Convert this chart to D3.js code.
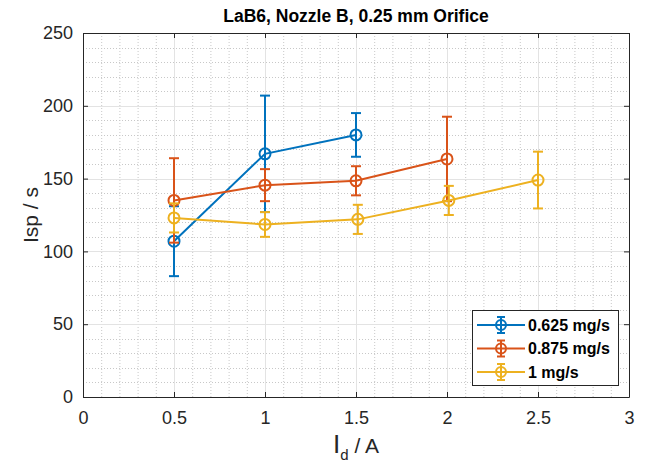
<!DOCTYPE html>
<html>
<head>
<meta charset="utf-8">
<script src="https://cdn.jsdelivr.net/npm/d3@7"></script>
<style>
  body { margin: 0; background: #fff; }
  svg { display: block; font-family: "Liberation Sans", Arial, sans-serif; }
</style>
</head>
<body>
<svg id="chart" width="646" height="465"></svg>
<script>
// Discharge current (A) for each flow rate
const current0625 = [0.5, 1.0, 1.5];
const current0875 = [0.5, 1.0, 1.5, 2.0];
const current1000 = [0.5, 1.0, 1.51, 2.01, 2.5];

// Specific impulse (s) and symmetric error (s)
const isp0625 = [107, 167, 180];
const err0625 = [24, 40, 15];
const isp0875 = [135, 145.5, 148.5, 163.5];
const err0875 = [29, 11, 10, 29];
const isp1000 = [123, 118.5, 122, 135, 149];
const err1000 = [10, 8.5, 10, 10, 19.5];

const seriesNames = ["0.625 mg/s", "0.875 mg/s", "1 mg/s"];
const seriesColors = ["#0072BD", "#D95319", "#EDB120"];

const xTicks = [0, 0.5, 1, 1.5, 2, 2.5, 3];
const yTicks = [0, 50, 100, 150, 200, 250];

const series = [
  { name: seriesNames[0], color: seriesColors[0], x: current0625, y: isp0625, e: err0625 },
  { name: seriesNames[1], color: seriesColors[1], x: current0875, y: isp0875, e: err0875 },
  { name: seriesNames[2], color: seriesColors[2], x: current1000, y: isp1000, e: err1000 }
];

const svg = d3.select("#chart");
const L = 83, R = 629, T = 33, B = 397;

const x = d3.scaleLinear().domain([0, 3]).range([L, R]);
const y = d3.scaleLinear().domain([0, 250]).range([B, T]);

// Minor grid (dotted)
const xMinor = d3.range(0, 3.0001, 0.1).filter(v => Math.abs(v * 2 - Math.round(v * 2)) > 1e-6);
const yMinor = d3.range(0, 250.001, 10).filter(v => v % 50 !== 0);
const grid = svg.append("g");
grid.selectAll(".xm").data(xMinor).join("line")
  .attr("x1", d => x(d) + 0.5).attr("x2", d => x(d) + 0.5)
  .attr("y1", T).attr("y2", B)
  .attr("stroke", "#c8c8c8").attr("stroke-width", 1).attr("stroke-dasharray", "1,2");
grid.selectAll(".ym").data(yMinor).join("line")
  .attr("y1", d => Math.round(y(d)) + 0.5).attr("y2", d => Math.round(y(d)) + 0.5)
  .attr("x1", L).attr("x2", R)
  .attr("stroke", "#c8c8c8").attr("stroke-width", 1).attr("stroke-dasharray", "1,2");
// Major grid (solid)
grid.selectAll(".xM").data(xTicks).join("line")
  .attr("x1", d => Math.round(x(d)) + 0.5).attr("x2", d => Math.round(x(d)) + 0.5)
  .attr("y1", T).attr("y2", B)
  .attr("stroke", "#e3e3e3").attr("stroke-width", 1);
grid.selectAll(".yM").data(yTicks).join("line")
  .attr("y1", d => Math.round(y(d)) + 0.5).attr("y2", d => Math.round(y(d)) + 0.5)
  .attr("x1", L).attr("x2", R)
  .attr("stroke", "#e3e3e3").attr("stroke-width", 1);

// Axes with inward ticks
const axisColor = "#262626";
const fmt = d => d3.format("")(d);
const xAxis = svg.append("g").attr("transform", `translate(0,${B})`)
  .call(d3.axisBottom(x).tickValues(xTicks).tickFormat(fmt).tickSizeInner(-5).tickSizeOuter(0).tickPadding(14));
const xAxisTop = svg.append("g").attr("transform", `translate(0,${T})`)
  .call(d3.axisTop(x).tickValues(xTicks).tickFormat("").tickSizeInner(-5).tickSizeOuter(0));
const yAxis = svg.append("g").attr("transform", `translate(${L},0)`)
  .call(d3.axisLeft(y).tickValues(yTicks).tickFormat(fmt).tickSizeInner(-5).tickSizeOuter(0).tickPadding(10));
const yAxisRight = svg.append("g").attr("transform", `translate(${R},0)`)
  .call(d3.axisRight(y).tickValues(yTicks).tickFormat("").tickSizeInner(-5).tickSizeOuter(0));
[xAxis, xAxisTop, yAxis, yAxisRight].forEach(g => {
  g.select(".domain").attr("stroke", axisColor);
  g.selectAll(".tick line").attr("stroke", axisColor);
  g.selectAll(".tick text").attr("fill", axisColor).attr("font-size", 18)
    .attr("font-family", "Liberation Sans, Arial, sans-serif");
});

// Data: lines, error bars, markers
const line = d3.line().x(d => x(d[0])).y(d => y(d[1]));
const capHalf = 5;
series.forEach(s => {
  const pts = s.x.map((v, i) => [v, s.y[i], s.e[i]]);
  const g = svg.append("g");
  g.append("path").datum(pts).attr("d", line)
    .attr("fill", "none").attr("stroke", s.color).attr("stroke-width", 2);
  pts.forEach(p => {
    const cx = x(p[0]);
    const lo = y(p[1] - p[2]), hi = y(p[1] + p[2]);
    g.append("line").attr("x1", cx).attr("x2", cx).attr("y1", lo).attr("y2", hi)
      .attr("stroke", s.color).attr("stroke-width", 2);
    g.append("line").attr("x1", cx - capHalf).attr("x2", cx + capHalf).attr("y1", lo).attr("y2", lo)
      .attr("stroke", s.color).attr("stroke-width", 2);
    g.append("line").attr("x1", cx - capHalf).attr("x2", cx + capHalf).attr("y1", hi).attr("y2", hi)
      .attr("stroke", s.color).attr("stroke-width", 2);
  });
  g.selectAll("circle").data(pts).join("circle")
    .attr("cx", d => x(d[0])).attr("cy", d => y(d[1])).attr("r", 5.5)
    .attr("fill", "none").attr("stroke", s.color).attr("stroke-width", 2);
});

// Title
svg.append("text").attr("x", (L + R) / 2).attr("y", 22).attr("text-anchor", "middle")
  .attr("font-size", 17.5).attr("font-weight", "bold").attr("fill", "#000")
  .text("LaB6, Nozzle B, 0.25 mm Orifice");

// Axis labels
const xl = svg.append("text").attr("x", (L + R) / 2).attr("y", 453).attr("text-anchor", "middle")
  .attr("font-size", 21).attr("fill", axisColor);
xl.append("tspan").attr("font-size", 26).text("I");
xl.append("tspan").attr("font-size", 15).attr("dy", 7).text("d");
xl.append("tspan").attr("dy", -7).text(" / A");

svg.append("text").attr("transform", `translate(38,${(T + B) / 2}) rotate(-90)`)
  .attr("text-anchor", "middle").attr("font-size", 21).attr("fill", axisColor)
  .text("Isp / s");

// Legend
const lg = svg.append("g");
const lx = 472, ly = 310, lw = 146, lh = 75;
lg.append("rect").attr("x", lx + 0.5).attr("y", ly + 0.5).attr("width", lw).attr("height", lh)
  .attr("fill", "#fff").attr("stroke", "#262626").attr("stroke-width", 1);
series.forEach((s, i) => {
  const cy = ly + 15 + i * 23.5;
  lg.append("line").attr("x1", lx + 5).attr("x2", lx + 53).attr("y1", cy).attr("y2", cy)
    .attr("stroke", s.color).attr("stroke-width", 2);
  const mx = lx + 29;
  lg.append("line").attr("x1", mx).attr("x2", mx).attr("y1", cy - 8).attr("y2", cy + 8)
    .attr("stroke", s.color).attr("stroke-width", 2);
  lg.append("line").attr("x1", mx - 4).attr("x2", mx + 4).attr("y1", cy - 8).attr("y2", cy - 8)
    .attr("stroke", s.color).attr("stroke-width", 2);
  lg.append("line").attr("x1", mx - 4).attr("x2", mx + 4).attr("y1", cy + 8).attr("y2", cy + 8)
    .attr("stroke", s.color).attr("stroke-width", 2);
  lg.append("circle").attr("cx", mx).attr("cy", cy).attr("r", 5)
    .attr("fill", "none").attr("stroke", s.color).attr("stroke-width", 2);
  lg.append("text").attr("x", lx + 56).attr("y", cy + 5.5).attr("font-size", 16)
    .attr("font-weight", "bold").attr("fill", "#000").text(s.name);
});
</script>
</body>
</html>
